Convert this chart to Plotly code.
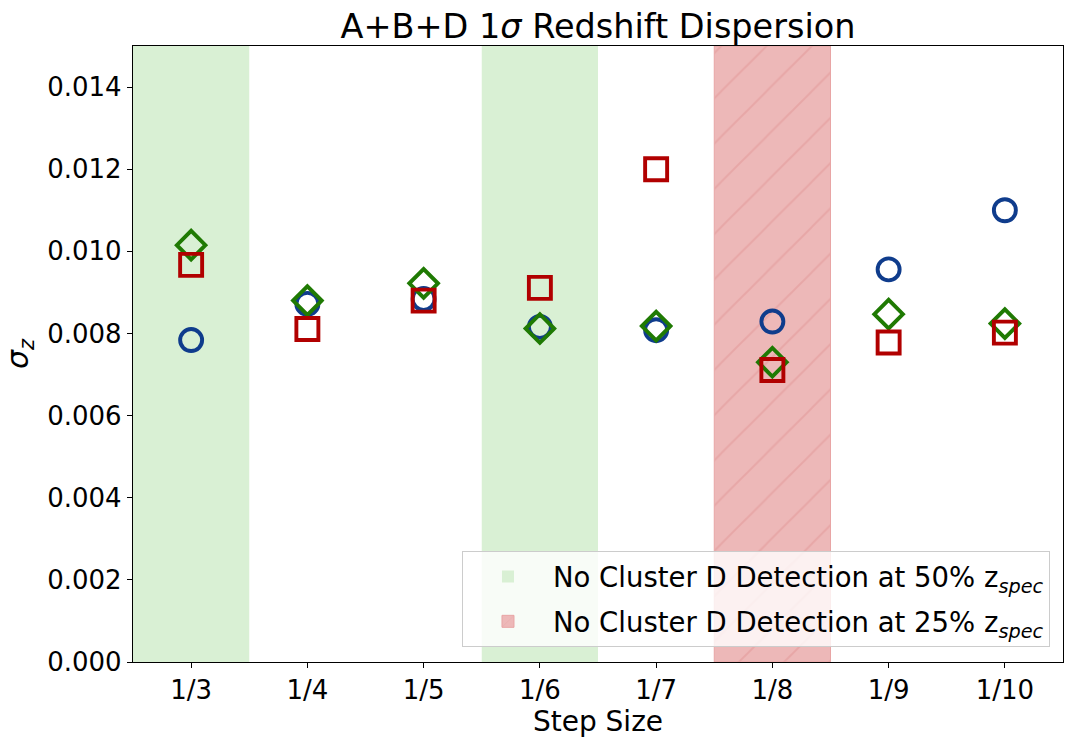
import plotly.graph_objects as go

steps = ["1/3", "1/4", "1/5", "1/6", "1/7", "1/8", "1/9", "1/10"]

# 1-sigma redshift dispersion per step size
sigma_circle = [0.00784, 0.00872, 0.00884, 0.00816, 0.00808, 0.00829, 0.00956, 0.01100]
sigma_diamond = [0.01015, 0.00880, 0.00922, 0.00812, 0.00818, 0.00730, 0.00847, 0.00824]
sigma_square = [0.00967, 0.00811, 0.00880, 0.00911, 0.01200, 0.00711, 0.00778, 0.00802]

# steps with no cluster D detection
no_det_50 = ["1/3", "1/6"]
no_det_25 = ["1/8"]

YMAX = 0.015
FONT = "DejaVu Sans"

fig = go.Figure()

fig.add_trace(go.Bar(
    x=no_det_50, y=[YMAX] * len(no_det_50), width=1,
    name="No Cluster D Detection at 50% z<sub><i>spec</i></sub>",
    legendgroup="g50",
    marker=dict(color="rgba(217,240,212,1)", line=dict(width=0)),
    hoverinfo="skip",
))
fig.add_trace(go.Bar(
    x=no_det_25, y=[YMAX] * len(no_det_25), width=1,
    name="No Cluster D Detection at 25% z<sub><i>spec</i></sub>",
    legendgroup="g25",
    marker=dict(
        color="rgba(237,184,184,1)",
        line=dict(width=1, color="rgba(232,165,165,1)"),
        pattern=dict(shape="/", fgcolor="rgba(226,150,150,1)", size=32, solidity=0.06),
    ),
    hoverinfo="skip",
))

series = [
    (sigma_circle, "circle-open", "#0f3c8c"),
    (sigma_diamond, "diamond-open", "#1f7a03"),
    (sigma_square, "square-open", "#b10000"),
]
for vals, sym, col in series:
    fig.add_trace(go.Scatter(
        x=steps, y=vals, mode="markers", showlegend=False,
        marker=dict(symbol=sym, size=22, color=col, line=dict(width=3.9, color=col)),
    ))

fig.update_layout(
    width=1076, height=743,
    margin=dict(l=133, r=13, t=46, b=81),
    paper_bgcolor="white", plot_bgcolor="white",
    barmode="overlay",
    font=dict(family=FONT, size=26, color="black"),
    title=dict(text="A+B+D 1<i>σ</i> Redshift Dispersion", x=0.5, xref="paper",
               xanchor="center", y=0.964, yanchor="middle", font=dict(size=33.5)),
    legend=dict(
        x=0.986, y=0.024, xanchor="right", yanchor="bottom",
        bgcolor="rgba(255,255,255,0.8)", bordercolor="#cccccc", borderwidth=1,
        font=dict(size=27.5), itemwidth=80, tracegroupgap=6,
    ),
)
fig.update_xaxes(
    type="category", categoryorder="array", categoryarray=steps,
    range=[-0.5, len(steps) - 0.5], automargin=False,
    showline=True, mirror=True, linecolor="black", linewidth=1.3,
    ticks="outside", ticklen=5, tickcolor="black", showgrid=False,
    title=dict(text="Step Size", font=dict(size=28), standoff=6),
)
fig.update_yaxes(
    range=[0, YMAX], tickvals=[0.002 * i for i in range(8)], tickformat=".3f",
    automargin=False,
    showline=True, mirror=True, linecolor="black", linewidth=1.3,
    ticks="outside", ticklen=5, tickcolor="black", showgrid=False, zeroline=False,
    title=dict(text="<i>σ</i><sub><i>z</i></sub>", font=dict(size=30), standoff=10),
)

fig.write_html("out.html", config={"displayModeBar": False},
               post_script="document.body.style.margin='0';")
